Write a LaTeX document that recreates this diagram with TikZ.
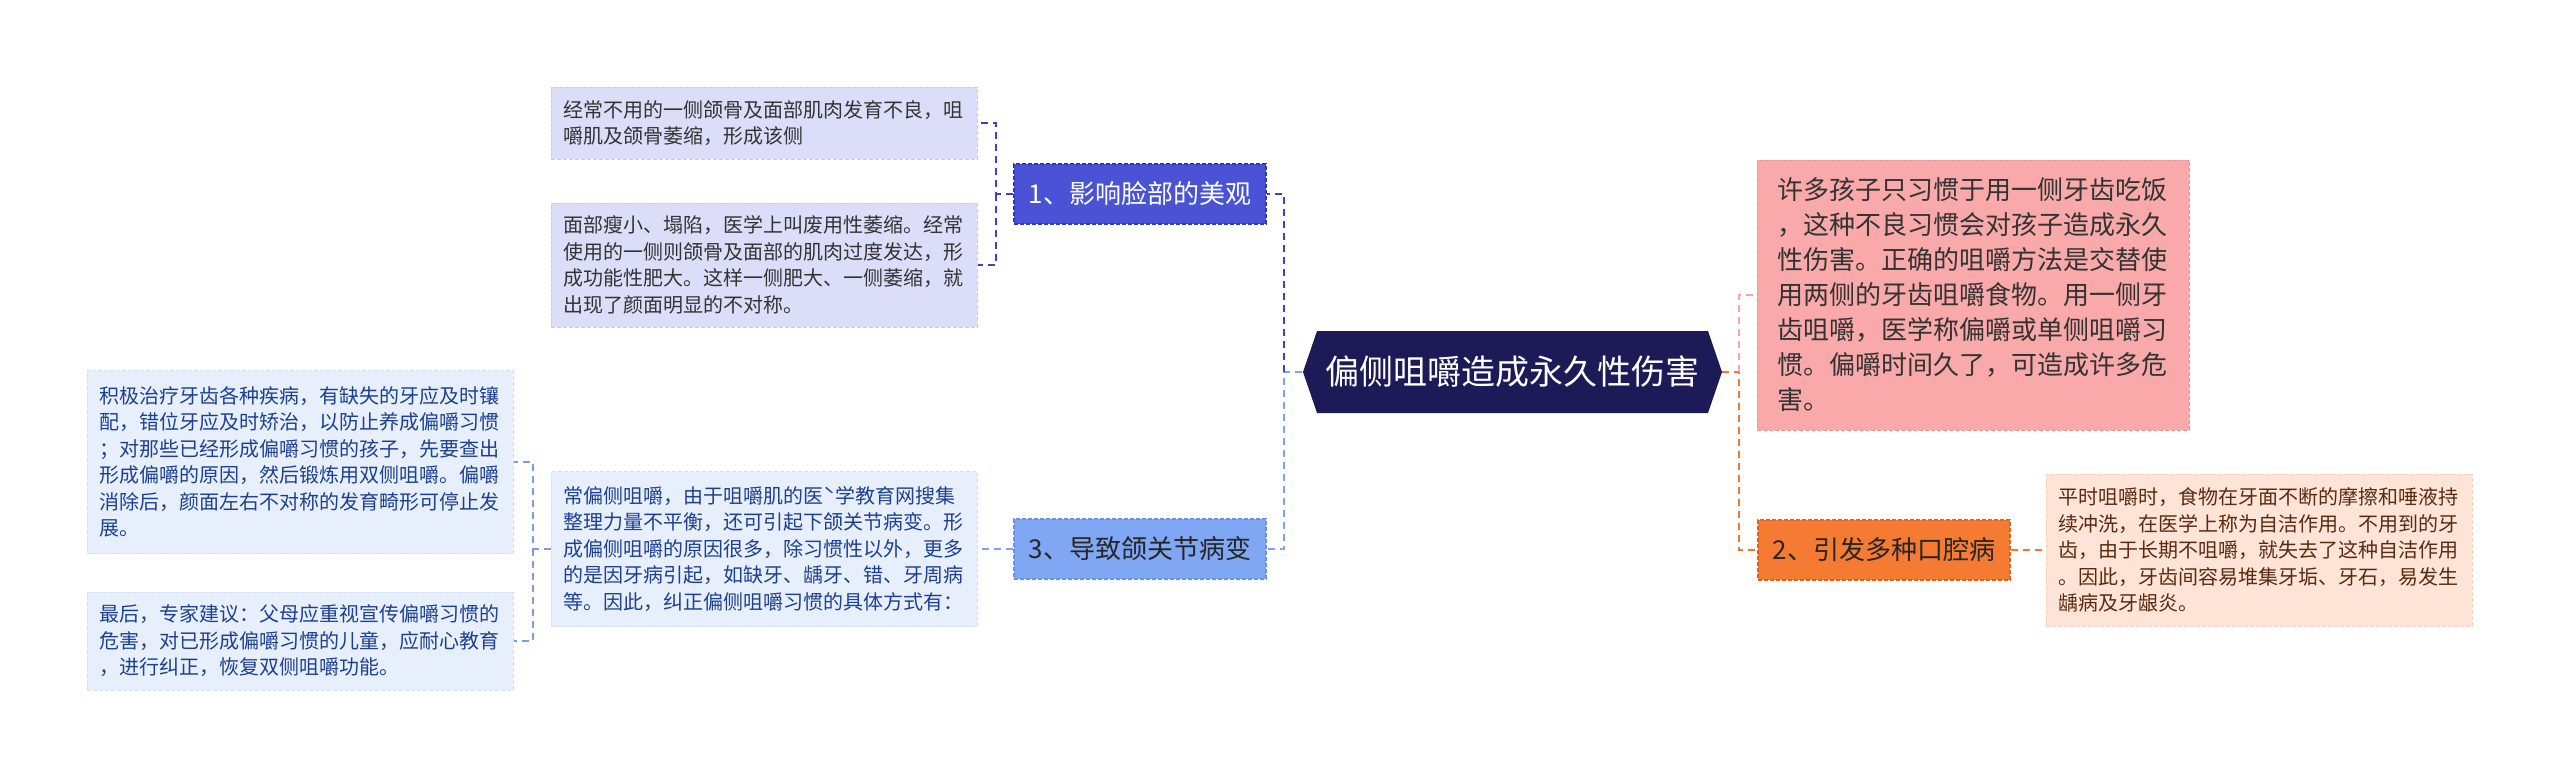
\documentclass[tikz,border=0pt]{standalone}
\usepackage{fontspec}
\setmainfont{Noto Sans CJK SC}
\setlength{\parindent}{0pt}
\definecolor{rootfill}{HTML}{1C1A57}
\definecolor{onefill}{HTML}{4A53D6}
\definecolor{onedraw}{HTML}{3239B4}
\definecolor{onelink}{HTML}{3C44C4}
\definecolor{oneleaf}{HTML}{DCDDF8}
\definecolor{oneleafdraw}{HTML}{C6C8EF}
\definecolor{threefill}{HTML}{80A7F3}
\definecolor{threedraw}{HTML}{6A92E2}
\definecolor{threelink}{HTML}{7FA4EF}
\definecolor{threeleaf}{HTML}{E7EEFC}
\definecolor{threeleafdraw}{HTML}{D3DFF7}
\definecolor{threetext}{HTML}{1D4190}
\definecolor{threesub}{HTML}{7F9CD6}
\definecolor{pinkfill}{HTML}{F9A9A9}
\definecolor{pinkdraw}{HTML}{F29292}
\definecolor{pinklink}{HTML}{F4A6AE}
\definecolor{twofill}{HTML}{F57A32}
\definecolor{twodraw}{HTML}{DE6420}
\definecolor{twolink}{HTML}{F07830}
\definecolor{twoleaf}{HTML}{FDE4D6}
\definecolor{twoleafdraw}{HTML}{F7D2BE}
\definecolor{twotext}{HTML}{5B2A12}
\tikzstyle{root}=[rectangle,text=white,minimum width=419pt,minimum height=83pt,inner sep=0,font=\fontsize{34}{34}\selectfont]
\tikzstyle{topic}=[rectangle,minimum width=252pt,minimum height=60pt,inner sep=0,draw,dash pattern=on 4pt off 2pt,line width=1.2pt,font=\fontsize{26}{26}\selectfont]
\tikzstyle{leaf}=[rectangle,align=left,text width=402pt,inner xsep=12pt,inner ysep=0,draw,dash pattern=on 4pt off 2pt,line width=1pt,font=\fontsize{20}{26.5}\selectfont]
\tikzstyle{link}=[line width=2.4pt,dash pattern=on 7pt off 5pt]

\begin{document}
\begin{tikzpicture}[x=1pt,y=-1pt]
\fill[white] (0,0) rectangle (2560,777);
\useasboundingbox (0,0) rectangle (2560,777);

% hexagon behind the title
\fill[rootfill] (1303,372) -- (1317,331) -- (1708,331) -- (1722,372) -- (1708,413) -- (1317,413) -- cycle;
\node[root] (root) at (1512,372) {偏侧咀嚼造成永久性伤害};

% left side
\node[topic,fill=onefill,draw=onedraw,text=white] (t1) at (1140,194) {1、影响脸部的美观};
\node[leaf,fill=oneleaf,draw=oneleafdraw,text=black!80,minimum height=72pt] (l1a) at (764,123) {经常不用的一侧颌骨及面部肌肉发育不良，咀\\嚼肌及颌骨萎缩，形成该侧};
\node[leaf,fill=oneleaf,draw=oneleafdraw,text=black!80,minimum height=124pt] (l1b) at (764,265) {面部瘦小、塌陷，医学上叫废用性萎缩。经常\\使用的一侧则颌骨及面部的肌肉过度发达，形\\成功能性肥大。这样一侧肥大、一侧萎缩，就\\出现了颜面明显的不对称。};

\node[topic,fill=threefill,draw=threedraw,text=black!85] (t3) at (1140,549) {3、导致颌关节病变};
\node[leaf,fill=threeleaf,draw=threeleafdraw,text=threetext,minimum height=155pt] (l3) at (764,549) {常偏侧咀嚼，由于咀嚼肌的医ˋ学教育网搜集\\整理力量不平衡，还可引起下颌关节病变。形\\成偏侧咀嚼的原因很多，除习惯性以外，更多\\的是因牙病引起，如缺牙、龋牙、错、牙周病\\等。因此，纠正偏侧咀嚼习惯的具体方式有：};
\node[leaf,fill=threeleaf,draw=threeleafdraw,text=threetext,minimum height=183pt] (l3a) at (300,462) {积极治疗牙齿各种疾病，有缺失的牙应及时镶\\配，错位牙应及时矫治，以防止养成偏嚼习惯\\；对那些已经形成偏嚼习惯的孩子，先要查出\\形成偏嚼的原因，然后锻炼用双侧咀嚼。偏嚼\\消除后，颜面左右不对称的发育畸形可停止发\\展。};
\node[leaf,fill=threeleaf,draw=threeleafdraw,text=threetext,minimum height=98pt] (l3b) at (300,641) {最后，专家建议：父母应重视宣传偏嚼习惯的\\危害，对已形成偏嚼习惯的儿童，应耐心教育\\，进行纠正，恢复双侧咀嚼功能。};

% right side
\node[leaf,fill=pinkfill,draw=pinkdraw,text=black!80,text width=392pt,inner xsep=20pt,minimum height=270pt,font=\fontsize{26}{35}\selectfont] (pk) at (1973,295) {许多孩子只习惯于用一侧牙齿吃饭\\，这种不良习惯会对孩子造成永久\\性伤害。正确的咀嚼方法是交替使\\用两侧的牙齿咀嚼食物。用一侧牙\\齿咀嚼，医学称偏嚼或单侧咀嚼习\\惯。偏嚼时间久了，可造成许多危\\害。};
\node[topic,fill=twofill,draw=twodraw,text=black!85] (t2) at (1884,550) {2、引发多种口腔病};
\node[leaf,fill=twoleaf,draw=twoleafdraw,text=twotext,minimum height=152pt] (l2) at (2259,550) {平时咀嚼时，食物在牙面不断的摩擦和唾液持\\续冲洗，在医学上称为自洁作用。不用到的牙\\齿，由于长期不咀嚼，就失去了这种自洁作用\\。因此，牙齿间容易堆集牙垢、牙石，易发生\\龋病及牙龈炎。};

\coordinate (jL) at (1284,372);
\coordinate (j1) at (996,194);
\coordinate (j3) at (533,549);
\coordinate (jR) at (1739,372);

\draw[link,threelink] (root.west) -- (jL) |- (t3.east);
\draw[link,onelink] (jL) |- (t1.east);
\draw[link,onelink] (t1.west) -- (j1) |- (l1a.east);
\draw[link,onelink] (j1) |- (l1b.east);
\draw[link,threelink] (t3.west) -- (l3.east);
\draw[link,threesub,line width=1.8pt] (l3.west) -- (j3) |- (l3a.east);
\draw[link,threesub,line width=1.8pt] (j3) |- (l3b.east);
\draw[link,twolink] (root.east) -- (jR) |- (t2.west);
\draw[link,pinklink] (jR) |- (pk.west);
\draw[link,twolink] (t2.east) -- (l2.west);
\end{tikzpicture}
\end{document}
